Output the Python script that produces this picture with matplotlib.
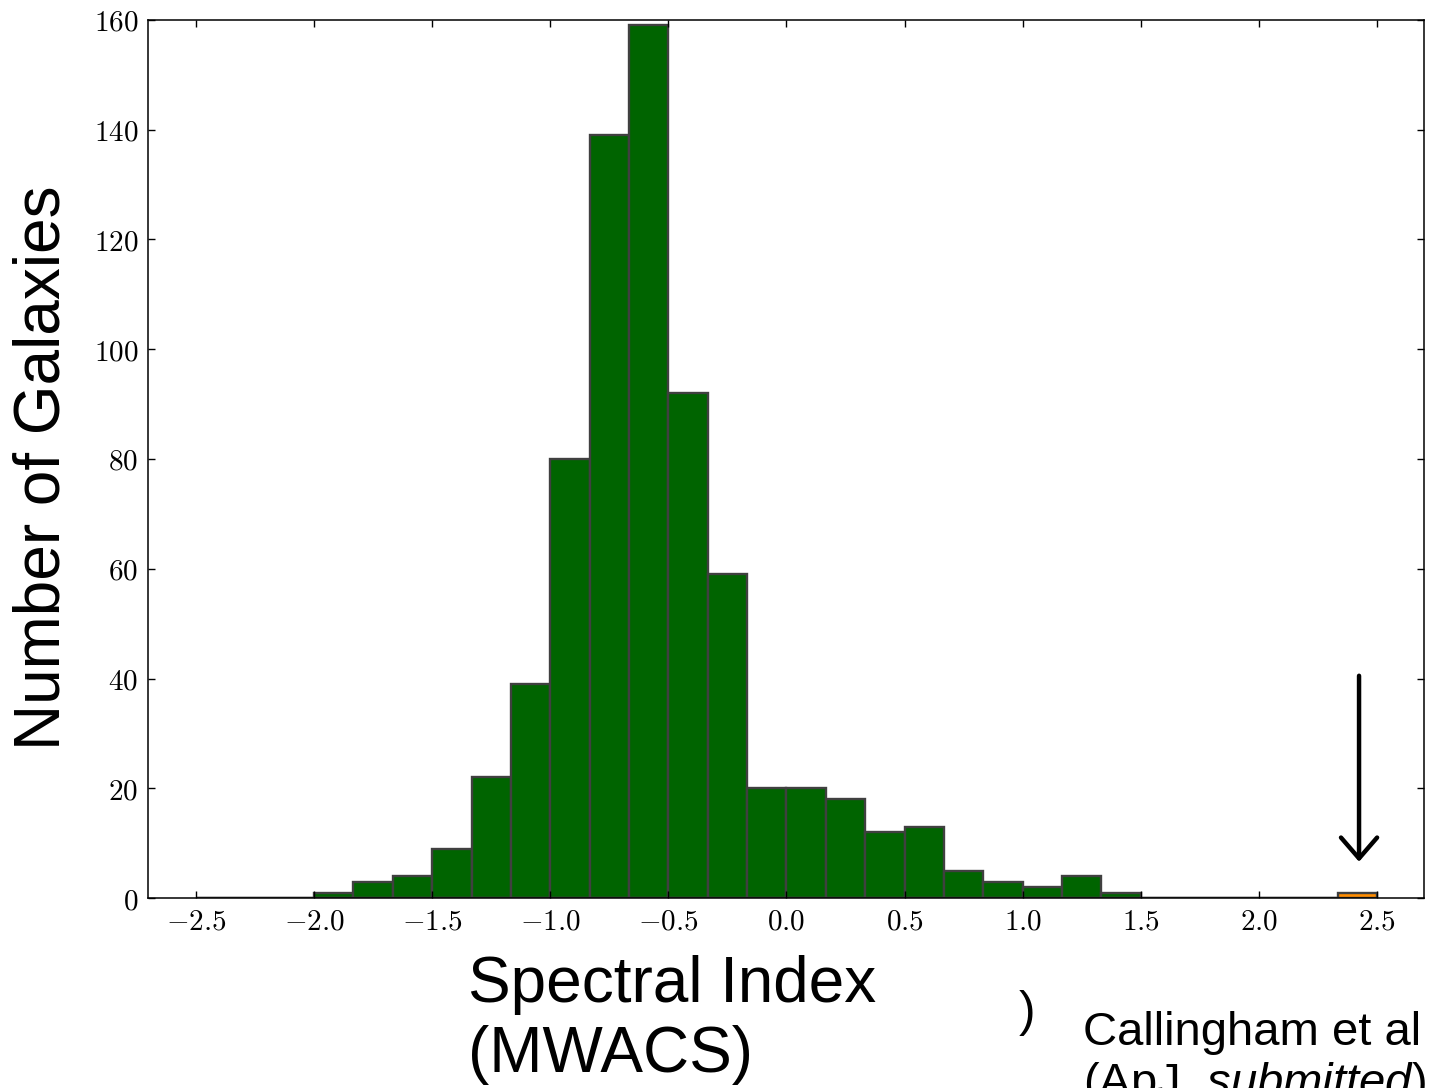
import matplotlib
matplotlib.use('Agg')
import matplotlib.pyplot as plt
from matplotlib.ticker import FuncFormatter, MultipleLocator
import numpy as np

plt.rcParams['mathtext.fontset'] = 'cm'
plt.rcParams['mathtext.it'] = 'Liberation Sans:italic'
plt.rcParams['mathtext.rm'] = 'Liberation Sans'

# histogram bins (width 1/6) from -2.5 to 2.5
bin_edges = np.linspace(-2.5, 2.5, 31)
counts = [0, 0, 0, 1, 3, 4, 9, 22, 39, 80, 139, 159, 92, 59, 20,
          20, 18, 12, 13, 5, 3, 2, 4, 1, 0, 0, 0, 0, 0, 0]
extra_counts = [0] * 29 + [1]

fig = plt.figure(figsize=(14.29, 10.88), dpi=100)
ax = fig.add_axes([148 / 1429, 1 - 898 / 1088, (1424 - 148) / 1429, (898 - 20) / 1088])

widths = np.diff(bin_edges)
ax.bar(bin_edges[:-1], counts, width=widths, align='edge',
       color='#006400', edgecolor='#404040', linewidth=1.7)
ax.bar(bin_edges[:-1], extra_counts, width=widths, align='edge',
       color='#ff8c00', edgecolor='#404040', linewidth=1.7)

ax.annotate('', xy=(2.424, 6.6), xytext=(2.424, 40.5),
            arrowprops=dict(arrowstyle='->,head_length=0.75,head_width=0.65',
                            color='black', lw=3.2, mutation_scale=20,
                            shrinkA=0, shrinkB=0))

ax.set_xlim(-2.703, 2.699)
ax.set_ylim(0, 160)
ax.xaxis.set_major_locator(MultipleLocator(0.5))
ax.yaxis.set_major_locator(MultipleLocator(20))
ax.xaxis.set_major_formatter(FuncFormatter(lambda v, p: r'$%.1f$' % v))
ax.yaxis.set_major_formatter(FuncFormatter(lambda v, p: r'$%d$' % v))
ax.tick_params(direction='in', length=5, width=1, labelsize=21,
               top=True, right=True, pad=7)
for s in ax.spines.values():
    s.set_linewidth(1.1)

ax.set_ylabel('Number of Galaxies', fontsize=46, family='Liberation Sans', labelpad=15)
ax.yaxis.label.set_y(0.49)

fig.text(468 / 1429, 1 - 955 / 1088, 'Spectral Index\n(MWACS)', fontsize=46,
         family='Liberation Sans', va='top', ha='left', linespacing=1.22)
fig.text(1019 / 1429, 1 - 990 / 1088, ')', fontsize=36,
         family='Liberation Sans', va='top', ha='left')
fig.text(1083 / 1429, 1 - 1011 / 1088,
         'Callingham et al\n(ApJ, $\\it{submitted}$)', fontsize=34,
         family='Liberation Sans', va='top', ha='left', linespacing=1.15,
         math_fontfamily='custom')

fig.savefig('out.png', dpi=100)
